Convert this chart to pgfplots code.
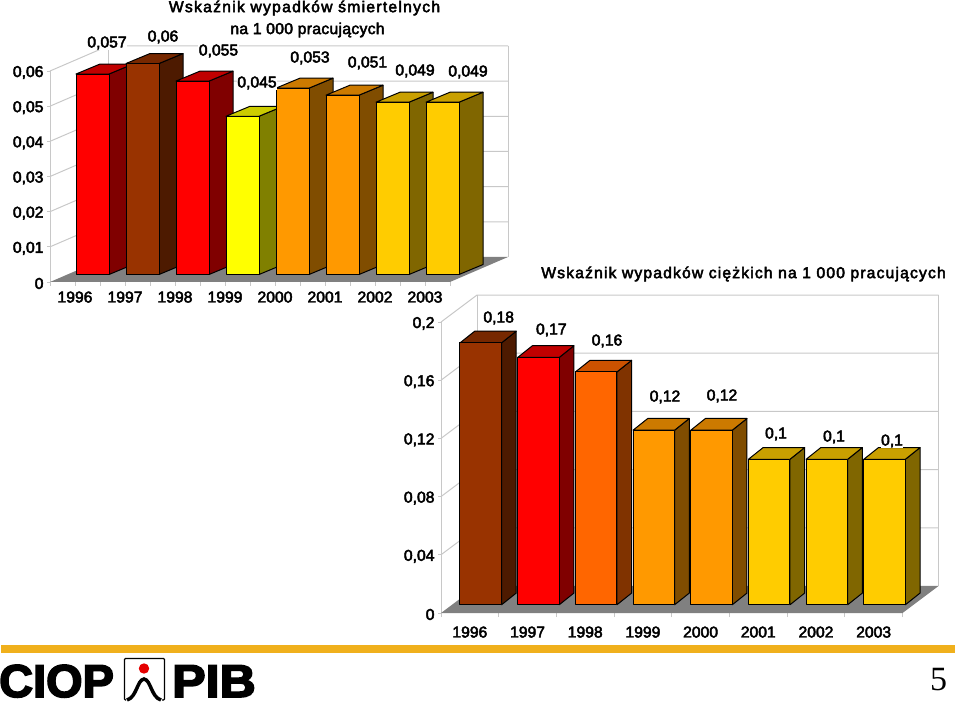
\documentclass[border=0pt]{standalone}
\usepackage{fontspec}
\usepackage{pgfplots}
\pgfplotsset{compat=1.18}
\setmainfont[FakeBold=3]{Liberation Sans}
\newfontfamily\ttlA[FakeBold=3,LetterSpace=8]{Liberation Sans}
\newfontfamily\ttlB[FakeBold=3,LetterSpace=2]{Liberation Sans}
\newfontfamily\ttlC[FakeBold=3,LetterSpace=7.3]{Liberation Sans}
\newfontfamily\logofont[FakeBold=3.5]{Liberation Sans Bold}
\newfontfamily\pagefont{Liberation Serif}
\newcommand\lab{\fontsize{15.7}{18}\selectfont}
\definecolor{gc}{HTML}{C8C8C8}
\definecolor{floorc}{HTML}{808080}
\definecolor{band}{HTML}{F0B01C}
% front, side, top
\definecolor{rF}{HTML}{FF0000}\definecolor{rS}{HTML}{800000}\definecolor{rT}{HTML}{C00000}
\definecolor{bF}{HTML}{993300}\definecolor{bS}{HTML}{4D1A00}\definecolor{bT}{HTML}{772800}
\definecolor{yF}{HTML}{FFFF00}\definecolor{yS}{HTML}{808000}\definecolor{yT}{HTML}{CCCC00}
\definecolor{oF}{HTML}{FF9900}\definecolor{oS}{HTML}{804D00}\definecolor{oT}{HTML}{CC7A00}
\definecolor{gF}{HTML}{FFCC00}\definecolor{gS}{HTML}{806600}\definecolor{gT}{HTML}{C9A000}
\definecolor{dF}{HTML}{FF6600}\definecolor{dS}{HTML}{803300}\definecolor{dT}{HTML}{CC5200}
% \Bar{category index}{value}{colour prefix}
\newcommand\Bar[3]{%
  \pgfmathsetmacro\xa{#1+\bx}%
  \pgfmathsetmacro\xb{\xa+\bw}%
  \pgfmathsetmacro\xc{\xb+\bdx}%
  \pgfmathsetmacro\xd{\xa+\bdx}%
  \pgfmathsetmacro\ya{\by}%
  \pgfmathsetmacro\yb{\by+#2}%
  \pgfmathsetmacro\yc{\by+\bdy}%
  \pgfmathsetmacro\yd{\by+#2+\bdy}%
  \addplot[fill=#3S,draw=black,line width=1pt,line join=round] coordinates {(\xb,\ya) (\xc,\yc) (\xc,\yd) (\xb,\yb)} --cycle;
  \addplot[fill=#3T,draw=black,line width=1pt,line join=round] coordinates {(\xa,\yb) (\xb,\yb) (\xc,\yd) (\xd,\yd)} --cycle;
  \addplot[fill=#3F,draw=black,line width=1pt,line join=round] coordinates {(\xa,\ya) (\xb,\ya) (\xb,\yb) (\xa,\yb)} --cycle;
}
% \Grid{y}: one grid line across the left and the back wall
\newcommand\Grid[1]{%
  \pgfmathsetmacro\xa{\wdx}%
  \pgfmathsetmacro\xb{8+\wdx}%
  \pgfmathsetmacro\ya{#1+\wdy}%
  \addplot[draw=gc,line width=1pt] coordinates {(0,#1) (\xa,\ya) (\xb,\ya)};
}
\newcommand\Walls[1]{%
  \pgfmathsetmacro\xa{\wdx}%
  \pgfmathsetmacro\xb{8+\wdx}%
  \pgfmathsetmacro\ya{\wdy}%
  \pgfmathsetmacro\yb{#1+\wdy}%
  \addplot[draw=gc,line width=1pt] coordinates {(0,0) (0,#1)};
  \addplot[draw=gc,line width=1pt] coordinates {(\xa,\ya) (\xa,\yb)};
  \addplot[draw=gc,line width=1pt] coordinates {(\xb,\ya) (\xb,\yb)};
  \addplot[fill=floorc,draw=none] coordinates {(0,0) (8,0) (\xb,\ya) (\xa,\ya)} --cycle;
}
\pgfplotsset{common/.style={
  scale only axis, clip=false, xmin=0, xmax=8, ymin=0,
  scaled y ticks=false,
  axis line style={draw=none},
  xtick pos=bottom, ytick pos=left, tick align=outside,
  major tick length=3pt, minor tick length=4pt,
  major x tick style={draw=none},
  minor x tick style={draw=gc,line width=0.8pt},
  y tick style={draw=gc,line width=0.8pt},
  tick label style={font=\lab},
  y tick label style={yshift=-1.5pt},
  xtick={0.5,1.5,2.5,3.5,4.5,5.5,6.5,7.5},
  xticklabels={1996,1997,1998,1999,2000,2001,2002,2003},
}}
\begin{document}
\begin{tikzpicture}
\useasboundingbox (0,0) rectangle (960pt,702pt);
\begin{axis}[common, at={(50pt,420pt)}, anchor=south west, width=400pt, height=211pt,
  ymax=0.06,
  minor xtick={0,0.5,1,1.5,2,2.5,3,3.5,4,4.5,5,5.5,6,6.5,7,7.5,8},
  ytick={0,0.01,0.02,0.03,0.04,0.05,0.06},
  yticklabels={0,{0,01},{0,02},{0,03},{0,04},{0,05},{0,06}},
  x tick label style={yshift=-3pt},
]
\def\wdx{1.16}\def\wdy{0.00711}
\def\bx{0.52}\def\bw{0.66}\def\by{0.00213}\def\bdx{0.48}\def\bdy{0.00284}
\Walls{0.06}
\Grid{0.01}\Grid{0.02}\Grid{0.03}\Grid{0.04}\Grid{0.05}\Grid{0.06}
\Bar{0}{0.057}{r}
\Bar{1}{0.06}{b}
\Bar{2}{0.055}{r}
\Bar{3}{0.045}{y}
\Bar{4}{0.053}{o}
\Bar{5}{0.051}{o}
\Bar{6}{0.049}{g}
\Bar{7}{0.049}{g}
\end{axis}
\begin{axis}[common, at={(441pt,89pt)}, anchor=south west, width=461.5pt, height=291pt,
  ymax=0.2,
  minor xtick={0,1,2,3,4,5,6,7,8},
  ytick={0,0.04,0.08,0.12,0.16,0.2},
  yticklabels={0,{0,04},{0,08},{0,12},{0,16},{0,2}},
  x tick label style={yshift=-7pt},
]
\def\wdx{0.624}\def\wdy{0.01856}
\def\bx{0.329}\def\bw{0.72}\def\by{0.00565}\def\bdx{0.2548}\def\bdy{0.00804}
\Walls{0.2}
\Grid{0.04}\Grid{0.08}\Grid{0.12}\Grid{0.16}\Grid{0.2}
\Bar{0}{0.18}{b}
\Bar{1}{0.17}{r}
\Bar{2}{0.16}{d}
\Bar{3}{0.12}{o}
\Bar{4}{0.12}{o}
\Bar{5}{0.1}{g}
\Bar{6}{0.1}{g}
\Bar{7}{0.1}{g}
\end{axis}
\begin{scope}[x=1pt,y=-1pt,yshift=702pt]
  % titles
  \node[font=\ttlA\fontsize{15.7}{18}\selectfont,inner sep=0pt] at (304.5,8) {Wskaźnik wypadków śmiertelnych};
  \node[font=\ttlB\fontsize{15.7}{18}\selectfont,inner sep=0pt] at (307.5,30) {na 1 000 pracujących};
  \node[font=\ttlC\fontsize{15.7}{18}\selectfont,inner sep=0pt] at (743.5,274) {Wskaźnik wypadków ciężkich na 1 000 pracujących};
  % value labels
  \foreach \x/\y/\t in {107/43/{0,057},163/37/{0,06},218.5/51/{0,055},257/83/{0,045},310/58/{0,053},367.5/63/{0,051},415/71/{0,049},468/72/{0,049},
     498.7/318/{0,18},551.3/330/{0,17},607/341/{0,16},665/397/{0,12},722/396/{0,12},776/434/{0,1},834/437/{0,1},892/441/{0,1}}
    \node[font=\lab,inner sep=0.5pt,fill=white] at (\x,\y) {\t};
  % band and page number
  \fill[band] (1,645) rectangle (955,653);
  \node[font=\pagefont\fontsize{34}{36}\selectfont,inner sep=0pt] at (938.5,680) {5};
  % logo
  \node[font=\logofont\fontsize{46}{46}\selectfont,inner sep=0pt,anchor=base west,xscale=1.02] at (-1,697) {CIOP};
  \node[font=\logofont\fontsize{46}{46}\selectfont,inner sep=0pt,anchor=base west,xscale=1.09] at (172,697) {PIB};
  \draw[line width=1.3pt,rounded corners=1pt] (126,700) -- (124.5,700) -- (124.5,658.5) -- (164.5,658.5) -- (164.5,700) -- (162,700);
  \fill[red!90!black] (144,668.5) circle (5.2);
  \draw[line width=3.5pt] (127,700) .. controls (137,697) and (137,680) .. (144,679) .. controls (151,680) and (151,697) .. (161,700);
\end{scope}
\end{tikzpicture}
\end{document}
